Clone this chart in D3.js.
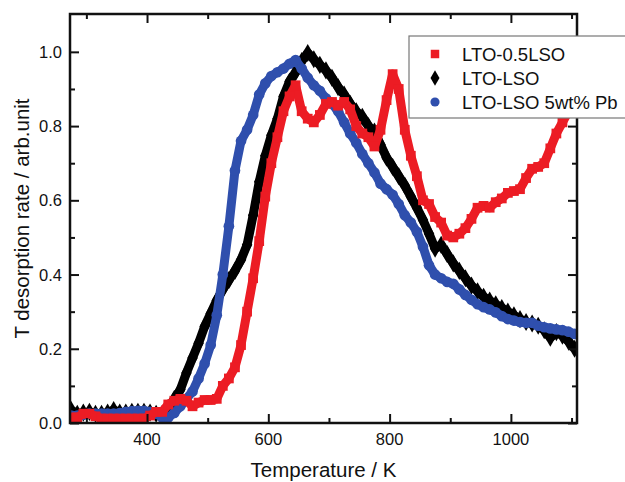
<!DOCTYPE html>
<html>
<head>
<meta charset="utf-8">
<script src="https://cdn.jsdelivr.net/npm/d3@7"></script>
<style>
  body { margin: 0; background: #fff; }
  text { font-family: "Liberation Sans", Arial, sans-serif; fill: #111; }
</style>
</head>
<body>
<svg id="chart" width="625" height="482"></svg>
<script>
// temperature grid (K)
const temps = [275, 285, 295, 305, 315, 325, 335, 345, 355, 365, 375, 385, 395, 405, 415, 425, 435, 445, 455, 465,
  475, 485, 495, 505, 515, 525, 535, 545, 555, 565, 575, 585, 595, 605, 615, 625, 635, 645, 655, 665,
  675, 685, 695, 705, 715, 725, 735, 745, 755, 765, 775, 785, 795, 805, 815, 825, 835, 845, 855, 865,
  875, 885, 895, 905, 915, 925, 935, 945, 955, 965, 975, 985, 995, 1005, 1015, 1025, 1035, 1045, 1055, 1065,
  1075, 1085, 1095, 1105];

const red = [0.015, 0.015, 0.025, 0.025, 0.018, 0.012, 0.012, 0.012, 0.012, 0.012, 0.012, 0.012, 0.012, 0.02, 0.03, 0.03, 0.05, 0.06, 0.065, 0.06,
  0.045, 0.055, 0.062, 0.062, 0.065, 0.10, 0.12, 0.15, 0.21, 0.30, 0.39, 0.49, 0.61, 0.70, 0.77, 0.84, 0.88, 0.91, 0.84, 0.82,
  0.81, 0.83, 0.86, 0.865, 0.855, 0.865, 0.845, 0.80, 0.78, 0.77, 0.745, 0.79, 0.87, 0.94, 0.90, 0.79, 0.72, 0.665, 0.60, 0.59,
  0.555, 0.54, 0.505, 0.50, 0.51, 0.525, 0.55, 0.58, 0.585, 0.58, 0.595, 0.605, 0.62, 0.625, 0.63, 0.66, 0.685, 0.69, 0.70, 0.74,
  0.78, 0.81, 0.84, 0.87];

const black = [0.035, 0.025, 0.028, 0.03, 0.025, 0.025, 0.028, 0.035, 0.028, 0.028, 0.03, 0.03, 0.03, 0.028, 0.025, 0.025, 0.04, 0.065, 0.09, 0.135,
  0.175, 0.215, 0.26, 0.295, 0.33, 0.36, 0.385, 0.41, 0.44, 0.48, 0.56, 0.65, 0.72, 0.775, 0.82, 0.88, 0.92, 0.945, 0.975, 0.997,
  0.98, 0.965, 0.95, 0.93, 0.905, 0.885, 0.86, 0.84, 0.825, 0.80, 0.785, 0.75, 0.715, 0.69, 0.665, 0.64, 0.61, 0.58, 0.547, 0.51,
  0.47, 0.48, 0.455, 0.43, 0.41, 0.39, 0.37, 0.355, 0.34, 0.33, 0.32, 0.31, 0.30, 0.29, 0.28, 0.272, 0.268, 0.262, 0.25, 0.23,
  0.245, 0.235, 0.22, 0.20];

const blue = [0.02, 0.02, 0.022, 0.025, 0.025, 0.025, 0.025, 0.025, 0.027, 0.03, 0.032, 0.033, 0.033, 0.03, 0.025, 0.015, 0.015, 0.027, 0.045, 0.065,
  0.085, 0.12, 0.16, 0.21, 0.29, 0.40, 0.53, 0.68, 0.76, 0.79, 0.83, 0.885, 0.915, 0.935, 0.945, 0.955, 0.968, 0.978, 0.955, 0.93,
  0.91, 0.895, 0.875, 0.86, 0.84, 0.81, 0.78, 0.755, 0.725, 0.70, 0.675, 0.645, 0.63, 0.615, 0.59, 0.56, 0.54, 0.515, 0.475, 0.425,
  0.40, 0.39, 0.38, 0.375, 0.36, 0.345, 0.332, 0.32, 0.312, 0.306, 0.298, 0.288, 0.28, 0.276, 0.272, 0.27, 0.27, 0.262, 0.258, 0.255,
  0.252, 0.25, 0.246, 0.24];

const seriesNames = ['LTO-0.5LSO', 'LTO-LSO', 'LTO-LSO 5wt% Pb'];
const xMajor = [400, 600, 800, 1000];
const xMinor = [300, 500, 700, 900, 1100];
const yMajor = [0, 0.2, 0.4, 0.6, 0.8, 1.0];
const yMinor = [0.1, 0.3, 0.5, 0.7, 0.9];

const plotLeft = 70, plotRight = 577, plotTop = 14, plotBottom = 423;
const svg = d3.select('#chart');

const x = d3.scaleLinear().domain([273, 1109]).range([plotLeft, plotRight]);
const y = d3.scaleLinear().domain([0, 1.102]).range([plotBottom, plotTop]);

svg.append('clipPath').attr('id', 'plotclip')
  .append('rect').attr('x', plotLeft).attr('y', plotTop)
  .attr('width', plotRight - plotLeft).attr('height', plotBottom - plotTop);

// series: drawn black, blue, red so red ends on top
const series = [
  { name: seriesNames[1], vals: black, color: '#000000', shape: d3.symbolDiamond, size: 95, legSize: 70 },
  { name: seriesNames[2], vals: blue, color: '#2f4fad', shape: d3.symbolCircle, size: 90, legSize: 66 },
  { name: seriesNames[0], vals: red, color: '#ec1c24', shape: d3.symbolSquare, size: 95, legSize: 72 }
];

const plot = svg.append('g').attr('clip-path', 'url(#plotclip)');
const line = d3.line().x(d => x(d[0])).y(d => y(d[1]));

series.forEach(s => {
  const pts = temps.map((t, i) => [t, s.vals[i]]);
  plot.append('path')
    .datum(pts)
    .attr('d', line)
    .attr('fill', 'none')
    .attr('stroke', s.color)
    .attr('stroke-width', 9)
    .attr('stroke-linejoin', 'round');
  plot.selectAll(null)
    .data(pts)
    .enter()
    .append('path')
    .attr('d', d3.symbol().type(s.shape).size(s.size))
    .attr('transform', d => 'translate(' + x(d[0]) + ',' + y(d[1]) + ')')
    .attr('fill', s.color);
});

// frame and ticks (inward, mirrored on all four sides)
const axisG = svg.append('g');
function tickMarks(pos, axisFn, len, ticks) {
  axisG.append('g').attr('transform', pos)
    .call(axisFn.tickValues(ticks).tickSize(len).tickFormat(''))
    .call(g => g.select('.domain').remove())
    .selectAll('line').attr('stroke', '#111').attr('stroke-width', 2);
}
tickMarks('translate(0,' + plotBottom + ')', d3.axisTop(x), 9, xMajor);
tickMarks('translate(0,' + plotBottom + ')', d3.axisTop(x), 5, xMinor);
tickMarks('translate(0,' + plotTop + ')', d3.axisBottom(x), 9, xMajor);
tickMarks('translate(0,' + plotTop + ')', d3.axisBottom(x), 5, xMinor);
tickMarks('translate(' + plotLeft + ',0)', d3.axisRight(y), 9, yMajor);
tickMarks('translate(' + plotLeft + ',0)', d3.axisRight(y), 5, yMinor);
tickMarks('translate(' + plotRight + ',0)', d3.axisLeft(y), 9, yMajor);
tickMarks('translate(' + plotRight + ',0)', d3.axisLeft(y), 5, yMinor);

axisG.append('rect')
  .attr('x', plotLeft).attr('y', plotTop)
  .attr('width', plotRight - plotLeft).attr('height', plotBottom - plotTop)
  .attr('fill', 'none').attr('stroke', '#111').attr('stroke-width', 2.5);

// tick labels
svg.selectAll('.xlab').data(xMajor).enter().append('text')
  .attr('x', d => x(d)).attr('y', plotBottom + 22)
  .attr('text-anchor', 'middle').attr('font-size', 16.5)
  .text(d => d);
svg.selectAll('.ylab').data(yMajor).enter().append('text')
  .attr('x', plotLeft - 8).attr('y', d => y(d) + 6)
  .attr('text-anchor', 'end').attr('font-size', 16.5)
  .text(d => d3.format('.1f')(d));

// axis titles
svg.append('text')
  .attr('x', (plotLeft + plotRight) / 2).attr('y', 477)
  .attr('text-anchor', 'middle').attr('font-size', 20.5)
  .text('Temperature / K');
svg.append('text')
  .attr('transform', 'translate(29,' + (plotTop + plotBottom) / 2 + ') rotate(-90)')
  .attr('text-anchor', 'middle').attr('font-size', 20.5)
  .text('T desorption rate / arb.unit');

// legend
const legend = svg.append('g');
legend.append('rect')
  .attr('x', 409).attr('y', 36).attr('width', 240).attr('height', 82)
  .attr('fill', '#fff').attr('stroke', '#777').attr('stroke-width', 1.2);
const legendItems = [series[2], series[0], series[1]];
legendItems.forEach((s, i) => {
  const yy = 54 + i * 24;
  legend.append('path')
    .attr('d', d3.symbol().type(s.shape).size(s.legSize))
    .attr('transform', 'translate(435,' + yy + ')')
    .attr('fill', s.color);
  legend.append('text')
    .attr('x', 462).attr('y', yy + 6.5)
    .attr('font-size', 18.5)
    .text(s.name);
});
</script>
</body>
</html>
